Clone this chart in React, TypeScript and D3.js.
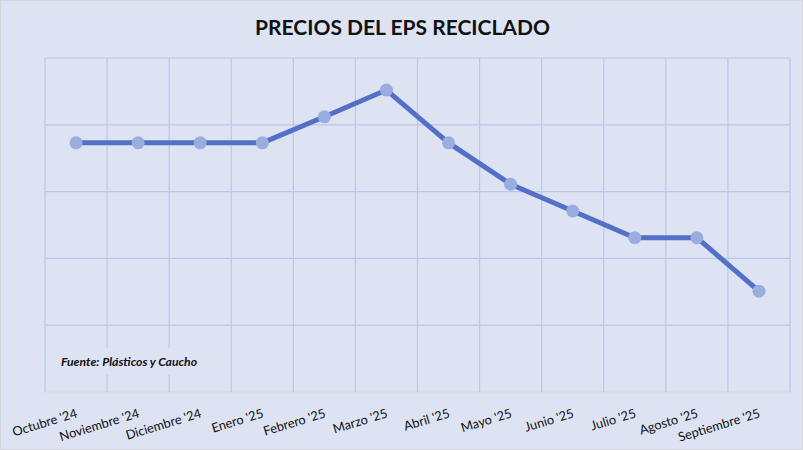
import React from "react";
import * as d3 from "d3";

const WIDTH = 803;
const HEIGHT = 450;
const MARGIN = { top: 58, right: 13, bottom: 58, left: 45 };

// Months on the category axis
const MONTHS = [
  "Octubre '24",
  "Noviembre '24",
  "Diciembre '24",
  "Enero '25",
  "Febrero '25",
  "Marzo '25",
  "Abril '25",
  "Mayo '25",
  "Junio '25",
  "Julio '25",
  "Agosto '25",
  "Septiembre '25",
];
// Price index (no axis labels in the original, read in gridline units)
const PRICES = [3.73, 3.73, 3.73, 3.73, 4.12, 4.52, 3.73, 3.11, 2.71, 2.31, 2.31, 1.51];
const Y_TICKS = [0, 1, 2, 3, 4, 5];

const BG = "#dde3f3";
const GRID = "#b9c8ea";
const LINE = "#5470c6";
const MARKER = "#9aaddf";
const FONT = "Lato, 'Open Sans', sans-serif";

export default function App() {
  const x = d3
    .scaleBand<string>()
    .domain(MONTHS)
    .range([MARGIN.left, WIDTH - MARGIN.right])
    .padding(0);
  const y = d3
    .scaleLinear()
    .domain([0, 5])
    .range([HEIGHT - MARGIN.bottom, MARGIN.top]);

  const cx = (m: string) => (x(m) ?? 0) + x.bandwidth() / 2;

  const line = d3
    .line<number>()
    .x((_, i) => cx(MONTHS[i]))
    .y((d) => y(d));

  const bottom = y(0);
  const top = y(5);

  return (
    <svg
      width={WIDTH}
      height={HEIGHT}
      style={{ position: "absolute", left: 0, top: 0, display: "block" }}
    >
      <rect x={0} y={0} width={WIDTH} height={HEIGHT} fill={BG} />
      <rect x={0.5} y={0.5} width={WIDTH - 1} height={HEIGHT - 1} fill="none" stroke="#d4d6dc" />

      <text
        x={WIDTH / 2 + 1}
        y={35}
        textAnchor="middle"
        fontFamily={FONT}
        fontWeight="bold"
        fontSize={21}
        fill="#111"
      >
        PRECIOS DEL EPS RECICLADO
      </text>

      {/* horizontal grid */}
      {Y_TICKS.map((t) => (
        <line
          key={"h" + t}
          x1={MARGIN.left}
          x2={WIDTH - MARGIN.right}
          y1={y(t)}
          y2={y(t)}
          stroke={t === 0 ? "#d9d6d6" : GRID}
          strokeWidth={1.2}
        />
      ))}
      {/* vertical grid at category boundaries */}
      {[...MONTHS.map((m) => x(m) ?? 0), WIDTH - MARGIN.right].map((gx, i) => (
        <line key={"v" + i} x1={gx} x2={gx} y1={top} y2={bottom} stroke={GRID} strokeWidth={1.2} />
      ))}

      {/* source note with its own backdrop over the grid */}
      <rect x={55} y={348} width={152} height={27} fill={BG} />
      <text
        x={61}
        y={366}
        fontFamily={FONT}
        fontStyle="italic"
        fontWeight="bold"
        fontSize={12.2}
        fill="#111"
      >
        Fuente: Plásticos y Caucho
      </text>

      <path
        d={line(PRICES) || ""}
        fill="none"
        stroke={LINE}
        strokeWidth={5}
        strokeLinejoin="round"
      />
      {PRICES.map((p, i) => (
        <circle key={i} cx={cx(MONTHS[i])} cy={y(p)} r={6.5} fill={MARKER} />
      ))}

      {/* rotated category labels */}
      {MONTHS.map((m) => (
        <text
          key={m}
          transform={`translate(${cx(m) + 2},${bottom + 25}) rotate(-17)`}
          textAnchor="end"
          fontFamily={FONT}
          fontSize={12.8}
          fill="#111"
        >
          {m}
        </text>
      ))}
    </svg>
  );
}
